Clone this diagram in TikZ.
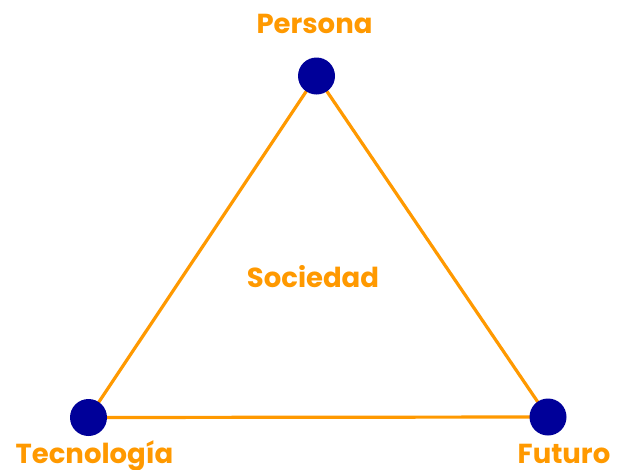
\documentclass[tikz,border=0pt]{standalone}
\usepackage{fontspec}
\setmainfont{Poppins}
\definecolor{orng}{HTML}{FF9900}
\definecolor{dblue}{HTML}{000099}
\begin{document}
\begin{tikzpicture}[x=1pt,y=-1pt,
  dot/.style={circle,fill=dblue,minimum size=37pt,inner sep=0pt},
  edge/.style={draw=orng,line width=3.2pt},
  lbl/.style={text=orng,font=\fontsize{27.5}{32}\selectfont\bfseries,inner sep=0pt,anchor=base}]
\useasboundingbox (0,0) rectangle (619,469);
\coordinate (pA) at (316.5,76);
\coordinate (pB) at (88.5,417.5);
\coordinate (pC) at (548,417);
\draw[edge] (pA) -- (pB) -- (pC) -- cycle;
\node[dot] (A) at (pA) {};
\node[dot] (B) at (pB) {};
\node[dot] (C) at (pC) {};
\node[lbl] (tA) at (314.5,33) {Persona};
\node[lbl] (tB) at (94.5,463) {Tecnología};
\node[lbl] (tC) at (564,463) {Futuro};
\node[lbl] (tS) at (313,287) {Sociedad};
\end{tikzpicture}
\end{document}
